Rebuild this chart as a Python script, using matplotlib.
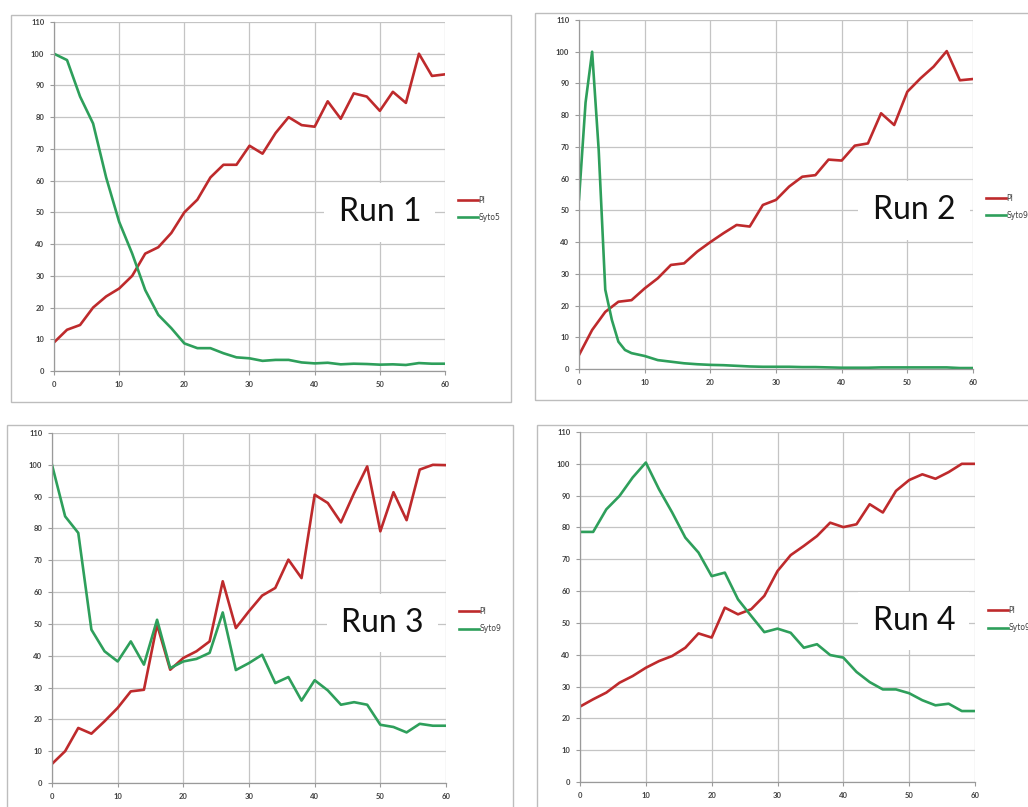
import matplotlib.pyplot as plt
from matplotlib.patches import Rectangle

# time axis (min), readings every 2 units
time = list(range(0, 61, 2))
# run 2 Syto9 has a sharp spike at the start, so it is read more finely there
time_r2s = [0, 1, 2, 3, 4, 5, 6, 7] + list(range(8, 61, 2))

run1_pi = [9, 13, 14.5, 20, 23.5, 26, 30, 37, 39, 43.5, 50, 54, 61, 65, 65, 71,
           68.5, 75, 80, 77.5, 77, 85, 79.5, 87.5, 86.5, 82, 88, 84.5, 100, 93, 93.5]
run1_syto = [100, 98, 86.5, 78, 61, 47, 37, 25.5, 17.7, 13.5, 8.7, 7.2, 7.2, 5.6, 4.3, 4,
             3.2, 3.5, 3.5, 2.7, 2.4, 2.6, 2.1, 2.3, 2.2, 2.0, 2.1, 1.9, 2.5, 2.3, 2.3]

run2_pi = [4.4, 12.3, 18, 21.2, 21.7, 25.4, 28.6, 32.8, 33.3, 37, 40, 42.8, 45.4, 44.9, 51.7, 53.3,
           57.5, 60.6, 61.1, 66, 65.7, 70.4, 71.1, 80.6, 76.9, 87.4, 91.6, 95.3, 100.2, 91, 91.4]
run2_syto = [53.5, 84, 100, 69, 25, 15.5, 8.6, 6,
             5, 4.1, 2.8, 2.3, 1.8, 1.5, 1.3, 1.2, 1.0, 0.8, 0.7, 0.7,
             0.7, 0.6, 0.6, 0.5, 0.4, 0.4, 0.4, 0.5, 0.5, 0.5, 0.5, 0.5, 0.5, 0.3, 0.3]

run3_pi = [6, 10, 17.3, 15.5, 19.4, 23.6, 28.8, 29.3, 49.8, 35.6, 39.3, 41.4, 44.5, 63.4, 48.7, 54,
           58.9, 61.3, 70.2, 64.4, 90.6, 88, 81.9, 91.1, 99.5, 79.1, 91.4, 82.6, 98.5, 100, 99.9]
run3_syto = [100, 83.8, 78.6, 48.2, 41.4, 38.2, 44.5, 37.2, 51.3, 36.1, 38.2, 39, 40.9, 53.6, 35.5, 37.7,
             40.3, 31.4, 33.3, 25.9, 32.3, 29.1, 24.6, 25.4, 24.6, 18.3, 17.6, 15.9, 18.6, 18, 18]

run4_pi = [23.7, 26, 28.1, 31.2, 33.3, 35.9, 38, 39.6, 42.2, 46.7, 45.4, 54.8, 52.7, 54.3, 58.5, 66.3,
           71.3, 74.2, 77.3, 81.5, 80.1, 81, 87.3, 84.7, 91.5, 94.9, 96.7, 95.3, 97.4, 100, 100]
run4_syto = [78.6, 78.6, 85.7, 89.9, 95.7, 100.4, 92, 84.7, 76.8, 72.1, 64.7, 65.8, 57.4, 52.2, 47.1, 48.2,
             46.9, 42.2, 43.3, 39.9, 39.1, 34.6, 31.4, 29.1, 29.1, 27.9, 25.7, 24.1, 24.6, 22.3, 22.3]

runs = [("Run 1", run1_pi, time, run1_syto, "Syto5"),
        ("Run 2", run2_pi, time_r2s, run2_syto, "Syto9"),
        ("Run 3", run3_pi, time, run3_syto, "Syto9"),
        ("Run 4", run4_pi, time, run4_syto, "Syto9")]

RED = '#BE2A2C'
GREEN = '#2E9F5B'
W, H = 1028, 807

# axes boxes in pixels: left, top, right, bottom
axes_px = [(54, 22, 445, 371), (579, 20, 973, 369), (52, 433, 446, 783), (580, 432, 975, 782)]
# chart-area borders in pixels
frames_px = [(11, 15, 511, 402), (535, 13, 1040, 400), (7, 425, 513, 820), (537, 425, 1040, 820)]
text_pos = [(50, 50), (51, 50), (50.3, 50.3), (50.7, 50.6)]

fig = plt.figure(figsize=(W / 100, H / 100), dpi=100)

for (l, t, r, b) in frames_px:
    fig.patches.append(Rectangle((l / W, 1 - b / H), (r - l) / W, (b - t) / H,
                                 transform=fig.transFigure, fill=False,
                                 edgecolor='#bdbdbd', lw=1.0))

for i, (name, pi, syto_t, syto, syto_label) in enumerate(runs):
    l, t, r, b = axes_px[i]
    ax = fig.add_axes([l / W, 1 - b / H, (r - l) / W, (b - t) / H])
    ax.plot(time, pi, color=RED, lw=1.9, solid_joinstyle='round', label='PI')
    ax.plot(syto_t, syto, color=GREEN, lw=1.9, solid_joinstyle='round', label=syto_label)
    ax.set_xlim(0, 60)
    ax.set_ylim(0, 110)
    ax.set_xticks(range(0, 61, 10))
    ax.set_yticks(range(0, 111, 10))
    ax.grid(True, color='#c4c4c4', lw=0.9)
    ax.set_axisbelow(True)
    for side in ['top', 'right']:
        ax.spines[side].set_visible(False)
    for side in ['left', 'bottom']:
        ax.spines[side].set_color('#9a9a9a')
        ax.spines[side].set_linewidth(0.9)
    ax.tick_params(axis='both', length=3, width=0.8, color='#9a9a9a',
                   labelsize=5.5, labelcolor='#404040', pad=4)
    for lab in ax.get_xticklabels() + ax.get_yticklabels():
        lab.set_family('Lato')
        lab.set_fontweight('bold')
    tx, ty = text_pos[i]
    ax.text(tx, ty, name, ha='center', va='center', fontsize=23, family='Lato',
            color='#111111',
            bbox=dict(boxstyle='square,pad=0.45', facecolor='white', edgecolor='none'))
    leg = ax.legend(loc='center left', bbox_to_anchor=(1.025, 0.465), frameon=False,
                    fontsize=5.5, handlelength=2.6, handletextpad=0.1, labelspacing=1.1,
                    borderaxespad=0)
    for txt in leg.get_texts():
        txt.set_color('#404040')

fig.savefig('out.png', dpi=100)
